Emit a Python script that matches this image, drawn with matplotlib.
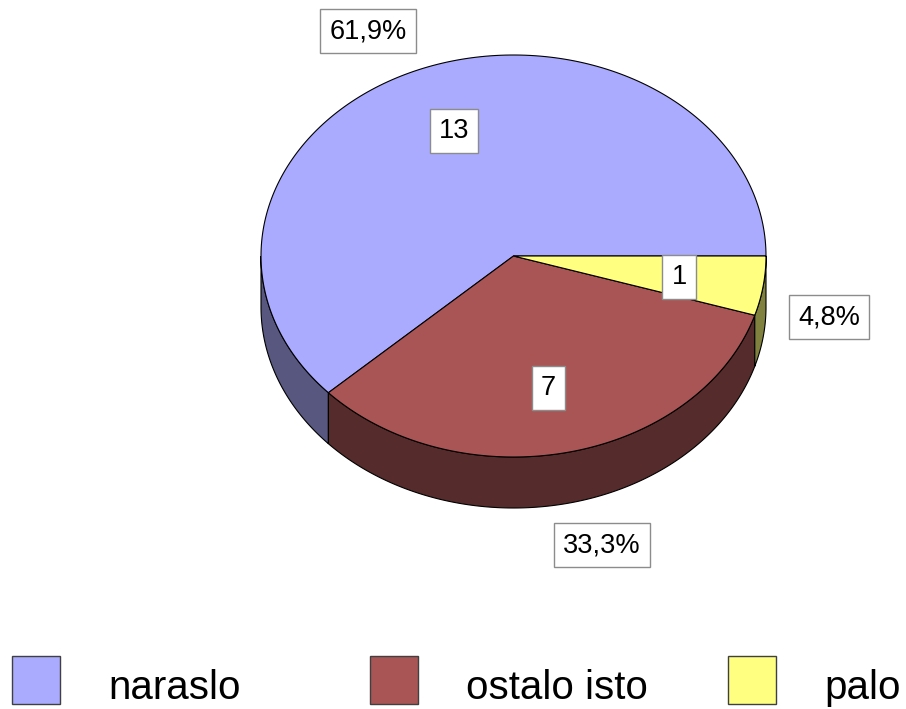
import numpy as np
import matplotlib.pyplot as plt
from matplotlib.patches import Polygon, Rectangle

plt.rcParams['font.family'] = ['Liberation Sans', 'DejaVu Sans']

# data
categories = ['naraslo', 'ostalo isto', 'palo']
values = [13, 7, 1]
top_colors = ['#aaaaff', '#aa5555', '#ffff80']
side_colors = ['#57577f', '#552b2b', '#80803f']

# pie geometry in pixel space (y goes down)
cx, cy = 513.5, 256
rx, ry = 252.5, 201
depth = 51

# label centres (value label, percent label)
value_xy = [(454, 131), (548, 388), (679, 277)]
pct_xy = [(368, 31), (602, 545), (829, 317)]

fig = plt.figure(figsize=(9.06, 7.09), dpi=100)
ax = fig.add_axes([0, 0, 1, 1])
ax.set_xlim(0, 906)
ax.set_ylim(709, 0)
ax.axis('off')


def arc(t0, t1, dy=0, n=200):
    t = np.radians(np.linspace(t0, t1, n))
    return np.column_stack([cx + rx * np.cos(t), cy + dy + ry * np.sin(t)])


total = float(sum(values))
spans = []
start = 360.0
for v in values:
    end = start - v / total * 360.0
    spans.append((end, start))
    start = end

# side walls (only the front half is visible)
for (a, b), col in zip(spans, side_colors):
    lo, hi = max(a, 0), min(b, 180)
    if hi <= lo:
        continue
    top = arc(lo, hi)
    bot = arc(hi, lo, dy=depth)
    ax.add_patch(Polygon(np.vstack([top, bot]), closed=True, facecolor=col,
                         edgecolor='black', linewidth=0.8, zorder=1))

# top faces
for (a, b), col in zip(spans, top_colors):
    pts = np.vstack([[cx, cy], arc(a, b)])
    ax.add_patch(Polygon(pts, closed=True, facecolor=col,
                         edgecolor='black', linewidth=0.8, zorder=2))

box = dict(boxstyle='square,pad=0.33', facecolor='white',
           edgecolor='#8c8c8c', linewidth=1)
for v, (vx, vy), (px, py) in zip(values, value_xy, pct_xy):
    ax.text(vx, vy, str(v), fontsize=19.5, ha='center', va='center',
            bbox=box, zorder=5)
    pct = f"{v / total * 100:.1f}".replace('.', ',') + '%'
    ax.text(px, py, pct, fontsize=19.5, ha='center', va='center',
            bbox=box, zorder=5)

# legend
for i, (name, col) in enumerate(zip(categories, top_colors)):
    x0 = 12 + i * 358
    ax.add_patch(Rectangle((x0, 656), 48, 48, facecolor=col,
                           edgecolor='#404040', linewidth=1, zorder=3))
    ax.text(x0 + 96, 699, name, fontsize=29, ha='left', va='baseline')

fig.savefig('out.png', dpi=100)
